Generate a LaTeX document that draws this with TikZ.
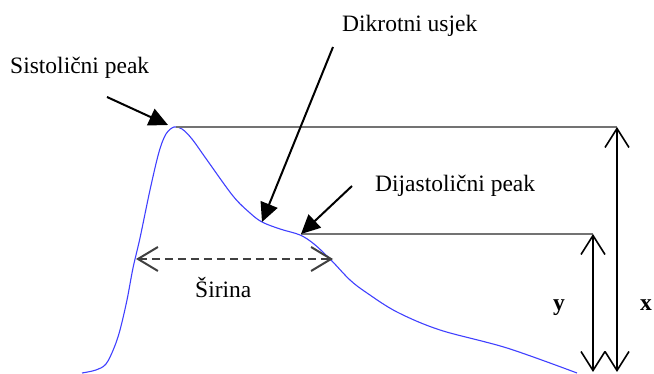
\documentclass[tikz,border=0pt]{standalone}
\usepackage{fontspec}
\setmainfont{Liberation Serif}
\usetikzlibrary{arrows.meta}
\tikzset{
  lbl/.style={font=\fontsize{23.5}{28}\selectfont, inner sep=0pt, anchor=base west},
  pointer/.style={line width=2pt, -{Triangle[length=19pt,width=18pt]}},
  guide/.style={line width=2pt, draw=black!55},
  dimarrow/.style={line width=1.6pt, {Straight Barb[length=19pt,width=24pt,line width=1.6pt]}-{Straight Barb[length=19pt,width=24pt,line width=1.6pt]}},
  widtharrow/.style={line width=2pt, draw=black!75, dash pattern=on 8pt off 5pt, {Straight Barb[length=20pt,width=24pt,line width=2pt]}-{Straight Barb[length=20pt,width=24pt,line width=2pt]}},
  wave/.style={draw=blue!75, line width=1.1pt}
}
\begin{document}
\begin{tikzpicture}[x=1pt,y=-1pt]
\useasboundingbox (0,0) rectangle (654,374);
% curve
\draw[wave] plot[smooth, tension=0.55] coordinates {(82,373) (96,370) (106,364) (114,348) (120,330) (127,300) (133,268) (140,238) (150,190) (159,152) (166,134) (174,127) (182,129) (192,139) (207,160) (233,196) (250,213) (262,222) (280,229) (300,235) (314,244) (331,260) (350,280) (367,293) (397,312) (440,330) (507,348) (577,373)};
% key points
\coordinate (sys) at (176,127);
\coordinate (dik) at (262,222);
\coordinate (dia) at (301,234);
\coordinate (xtop) at (617,127);
\coordinate (xbot) at (617,372);
\coordinate (ytop) at (593,234);
\coordinate (ybot) at (593,372);
\coordinate (wl) at (136,259);
\coordinate (wr) at (333,259);
% guides
\draw[guide] (sys) -- (xtop);
\draw[guide] (dia) -- (ytop);
% dimension arrows
\draw[dimarrow] (xtop) -- (xbot);
\draw[dimarrow] (ytop) -- (ybot);
\draw[widtharrow] (wl) -- (wr);
% labels
\node[lbl] (lsys) at (10,74) {Sistolični peak};
\node[lbl] (ldik) at (342,32) {Dikrotni usjek};
\node[lbl] (ldia) at (375,192) {Dijastolični peak};
\node[lbl] (lsir) at (195,298) {Širina};
\node[lbl, font=\fontsize{23.5}{28}\selectfont\bfseries] (ly) at (553,311) {y};
\node[lbl, font=\fontsize{23.5}{28}\selectfont\bfseries] (lx) at (640,311) {x};
% pointers
\coordinate (psys) at (107,97);
\coordinate (pdik) at (333,47);
\coordinate (pdia) at (352,186);
\draw[pointer] (psys) -- (168,125);
\draw[pointer] (pdik) -- (dik);
\draw[pointer] (pdia) -- (dia);
\end{tikzpicture}
\end{document}
